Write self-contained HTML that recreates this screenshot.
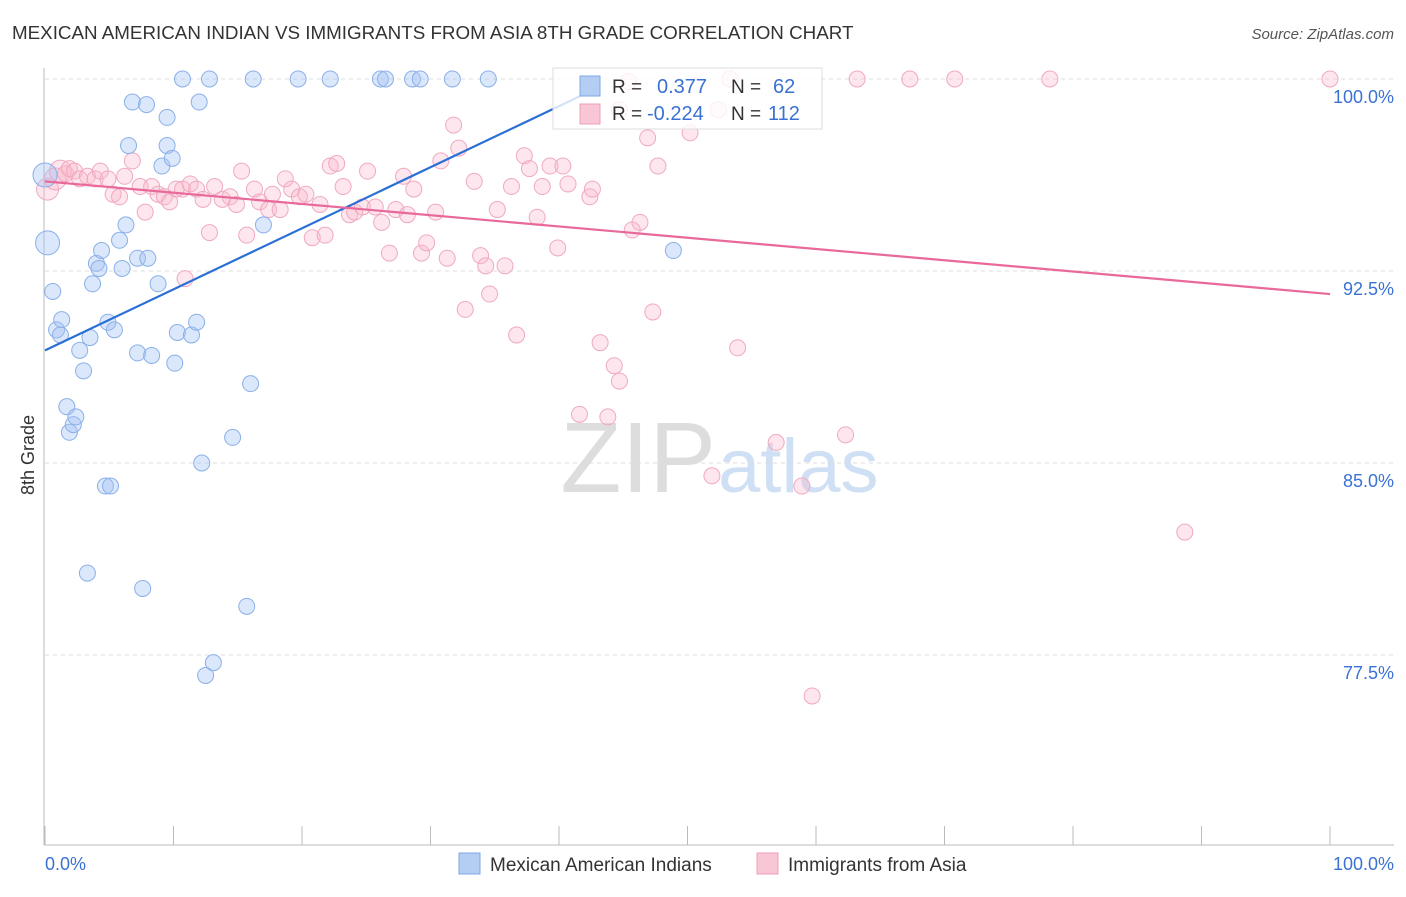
<!DOCTYPE html>
<html><head><meta charset="utf-8"><style>
body{margin:0;background:#fff;font-family:"Liberation Sans",sans-serif;}
svg text{font-family:"Liberation Sans",sans-serif;}
</style></head><body>
<svg id="chart" width="1406" height="892">
<text x="12" y="39" font-size="18.8" fill="#333">MEXICAN AMERICAN INDIAN VS IMMIGRANTS FROM ASIA 8TH GRADE CORRELATION CHART</text>
<text x="1394" y="39" font-size="15" fill="#555" font-style="italic" text-anchor="end">Source: ZipAtlas.com</text>
<text x="716" y="492" font-size="100" fill="#ddd" text-anchor="end" font-family="Liberation Serif">ZIP</text>
<text x="718" y="492" font-size="76" fill="#cfe0f5">atlas</text>
<text transform="translate(34,455) rotate(-90)" font-size="18" fill="#333" text-anchor="middle">8th Grade</text>
<g id="grid"></g><g id="xticks"></g><g id="pts"></g><g id="lines"></g>
<g>
<rect x="553" y="68" width="269" height="61" fill="#fff" fill-opacity="0.8" stroke="#ddd"/>
<rect x="580" y="76" width="20" height="20" fill="#b3cdf3" stroke="#7fa8e6"/>
<rect x="580" y="104" width="20" height="20" fill="#f9c6d6" stroke="#ee9fb9"/>
<text x="612" y="93" font-size="19" fill="#333">R = </text><text x="657" y="93" font-size="20" fill="#3a72d4">0.377</text>
<text x="731" y="93" font-size="19" fill="#333">N = </text><text x="773" y="93" font-size="20" fill="#3a72d4">62</text>
<text x="612" y="120" font-size="19" fill="#333">R = </text><text x="647" y="120" font-size="20" fill="#3a72d4">-0.224</text>
<text x="731" y="120" font-size="19" fill="#333">N = </text><text x="768" y="120" font-size="20" fill="#3a72d4">112</text>
</g>
<g>
<rect x="459" y="853" width="21" height="21" fill="#b3cdf3" stroke="#7fa8e6"/>
<text x="490" y="871" font-size="19" fill="#333">Mexican American Indians</text>
<rect x="757" y="853" width="21" height="21" fill="#f9c6d6" stroke="#ee9fb9"/>
<text x="788" y="871" font-size="19" fill="#333">Immigrants from Asia</text>
</g>
<text x="45" y="870" font-size="18" fill="#3a72d4">0.0%</text>
<text x="1394" y="870" font-size="18" fill="#3a72d4" text-anchor="end">100.0%</text>
</svg>
<script>
const yTicks=[100,92.5,85,77.5];
const yTickLabels=["100.0%","92.5%","85.0%","77.5%"];
const blueX=[0,0.2,0.6,0.9,1.3,1.2,1.7,1.9,2.2,2.4,2.7,3.0,3.5,3.7,4.0,4.2,4.4,4.9,5.4,5.8,6.0,4.7,5.1,3.3,6.5,6.3,6.8,7.9,7.2,8.0,7.2,8.3,7.6,8.8,9.1,9.5,9.5,9.9,10.1,10.3,10.7,11.4,11.8,12.0,12.2,12.8,12.5,13.1,14.6,15.7,16.0,16.2,17.0,19.7,22.2,26.1,26.5,28.6,29.2,31.7,34.5,48.9];
const blueY=[96.25,93.6,91.7,90.2,90.6,90.0,87.2,86.2,86.5,86.8,89.4,88.6,89.9,92.0,92.8,92.6,93.3,90.5,90.2,93.7,92.6,84.1,84.1,80.7,97.4,94.3,99.1,99.0,93.0,93.0,89.3,89.2,80.1,92.0,96.6,98.5,97.4,96.9,88.9,90.1,100,90.0,90.5,99.1,85.0,100,76.7,77.2,86.0,79.4,88.1,100,94.3,100,100,100,100,100,100,100,100,93.3];
const pinkX=[0.2,0.8,1.2,1.6,1.9,2.3,2.7,3.3,3.9,4.3,4.9,5.3,5.8,6.2,6.8,7.4,7.8,8.3,8.8,9.3,9.7,10.2,10.7,10.9,11.3,11.8,12.3,12.8,13.2,13.8,14.4,14.9,15.3,15.7,16.3,16.7,17.4,17.7,18.3,18.7,19.2,19.8,20.3,20.8,21.4,21.8,22.2,22.7,23.2,23.7,24.1,24.7,25.1,25.7,26.2,26.8,27.3,27.9,28.2,28.7,29.3,29.7,30.4,30.8,31.3,31.8,32.2,32.7,33.4,33.9,34.3,34.6,35.2,35.8,36.3,36.7,37.3,37.7,38.3,38.7,39.3,39.9,40.3,40.7,42.4,42.6,43.2,43.8,44.3,44.7,45.4,45.7,46.3,46.9,47.3,47.7,50.2,51.9,52.4,53.3,53.9,56.9,58.9,59.7,62.3,63.2,67.3,70.8,78.2,88.7,100,41.6,44.7];
const pinkY=[95.7,96.1,96.4,96.3,96.5,96.4,96.1,96.2,96.1,96.4,96.1,95.5,95.4,96.2,96.8,95.8,94.8,95.8,95.5,95.4,95.2,95.7,95.7,92.2,95.9,95.7,95.3,94.0,95.8,95.3,95.4,95.1,96.4,93.9,95.7,95.2,94.9,95.5,94.9,96.1,95.7,95.4,95.5,93.8,95.1,93.9,96.6,96.7,95.8,94.7,94.8,95.0,96.4,95.0,94.4,93.2,94.9,96.2,94.7,95.7,93.2,93.6,94.8,96.8,93.0,98.2,97.3,91.0,96.0,93.1,92.7,91.6,94.9,92.7,95.8,90.0,97.0,96.5,94.6,95.8,96.6,93.4,96.6,95.9,95.4,95.7,89.7,86.8,88.8,88.2,99.9,94.1,94.4,97.7,90.9,96.6,97.9,84.5,98.8,100,89.5,85.8,84.1,75.9,86.1,100,100,100,100,82.3,100,86.9,98.8];
const blueTrendX=[0,43.2];
const blueTrendY=[89.4,99.7];
const pinkTrendX=[0,100];
const pinkTrendY=[96.0,91.6];
const sx=v=>45+v*12.85;
const sy=v=>79+(100-v)*25.6;
const NS="http://www.w3.org/2000/svg";
function mk(tag,attrs,parent){const e=document.createElementNS(NS,tag);for(const k in attrs)e.setAttribute(k,attrs[k]);parent.appendChild(e);return e;}
const grid=document.getElementById('grid');
yTicks.forEach((t,i)=>{
 const l=mk('line',{x1:45,x2:1394,y1:sy(t),y2:sy(t),stroke:'#ddd','stroke-dasharray':'4,4'},grid);
 
 
 const tx=mk('text',{x:1394,y:sy(t)+24,'font-size':18,fill:'#3a72d4','text-anchor':'end'},grid);
 tx.textContent=yTickLabels[i];
 
 
});
const xt=document.getElementById('xticks');
mk('line',{x1:44,x2:44,y1:68,y2:845,stroke:'#bbb'},xt);
mk('line',{x1:44,x2:1394,y1:845,y2:845,stroke:'#bbb'},xt);
for(let i=0;i<=10;i++){const x=sx(i*10);const t=mk('line',{x1:x,x2:x,y1:826,y2:845,stroke:'#bbb'},xt);
 
 }
const pts=document.getElementById('pts');
pinkX.forEach((x,i)=>{const c=mk('circle',{cx:sx(x),cy:sy(pinkY[i]),r:(i<3?11:8),fill:'rgba(248,182,204,0.35)',stroke:'#f0a9c0','stroke-width':1},pts);
 
 });
blueX.forEach((x,i)=>{const c=mk('circle',{cx:sx(x),cy:sy(blueY[i]),r:(i<2?12:8),fill:'rgba(164,196,244,0.4)',stroke:'#8ab0e8','stroke-width':1},pts);
 
 });
const lines=document.getElementById('lines');
const bl=mk('line',{x1:sx(blueTrendX[0]),y1:sy(blueTrendY[0]),x2:sx(blueTrendX[1]),y2:sy(blueTrendY[1]),stroke:'#2a6fd6','stroke-width':2.2},lines);


const pl=mk('line',{x1:sx(pinkTrendX[0]),y1:sy(pinkTrendY[0]),x2:sx(pinkTrendX[1]),y2:sy(pinkTrendY[1]),stroke:'#e8699a','stroke-width':2.2},lines);


</script>
</body></html>
